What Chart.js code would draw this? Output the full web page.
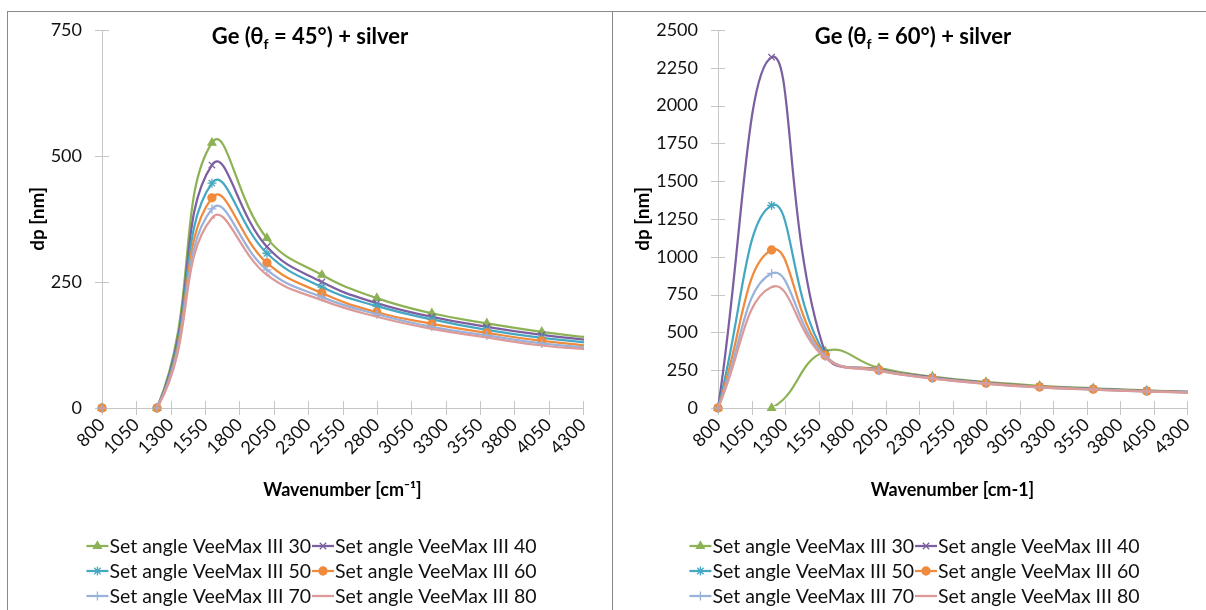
<!DOCTYPE html>
<html>
<head>
<meta charset="utf-8">
<script src="https://cdn.jsdelivr.net/npm/chart.js@4.4.1/dist/chart.umd.min.js"></script>
<style>
  body { margin: 0; background: #fff; width: 1206px; height: 610px; overflow: hidden; position: relative; }
  .panel { position: absolute; border-left: 1px solid #8a8a8a; border-top: 1px solid #8a8a8a; }
  #panel45 { left: 7px; top: 11px; width: 604px; height: 599px; }
  #panel60 { left: 612px; top: 11px; width: 600px; height: 599px; }
  .panel canvas { display: block; }
</style>
</head>
<body>
<div class="panel" id="panel45"><canvas id="chart45"></canvas></div>
<div class="panel" id="panel60"><canvas id="chart60"></canvas></div>
<script>
// wavenumber grid (cm-1) shared by every series
const wavenumbers = [800, 1200, 1600, 2000, 2400, 2800, 3200, 3600, 4000, 4400];
const setAngles = [30, 40, 50, 60, 70, 80];
const seriesNames = setAngles.map(a => 'Set angle VeeMax III ' + a);

// penetration depth dp [nm], Ge crystal at 45 deg
const dp45_30 = [0, 0, 526, 337, 264, 218, 188, 168, 151, 138];
const dp45_40 = [0, 0, 482, 320, 250, 208, 181, 161, 145, 133];
const dp45_50 = [0, 0, 446, 307, 240, 202, 176, 155, 139, 128];
const dp45_60 = [0, 0, 417, 288, 228, 190, 167, 149, 133, 122];
const dp45_70 = [0, 0, 395, 274, 220, 186, 161, 144, 128, 118];
const dp45_80 = [0, 0, 377, 264, 214, 181, 157, 140, 124, 115];

// penetration depth dp [nm], Ge crystal at 60 deg
const dp60_30 = [0, 0, 375, 265, 208, 172, 147, 130, 116, 106];
const dp60_40 = [0, 2320, 365, 255, 203, 168, 142, 127, 114, 104];
const dp60_50 = [0, 1340, 355, 252, 200, 166, 140, 125, 112, 103];
const dp60_60 = [0, 1045, 348, 250, 198, 164, 139, 124, 111, 102];
const dp60_70 = [0, 890, 340, 247, 196, 162, 137, 122, 110, 101];
const dp60_80 = [0, 800, 332, 245, 194, 160, 136, 121, 109, 100];

const yTicks45 = [0, 250, 500, 750];
const yTicks60 = [0, 250, 500, 750, 1000, 1250, 1500, 1750, 2000, 2250, 2500];
const xTicks = [800, 1050, 1300, 1550, 1800, 2050, 2300, 2550, 2800, 3050, 3300, 3550, 3800, 4050, 4300];

const seriesColors = ['#8db255', '#7b5fa0', '#45a8c2', '#f08a3c', '#98b2dc', '#dc9a98'];
const markerStyles = ['triangle', 'crossRot', 'star', 'circle', 'cross', 'dash'];
const markerSizes = [4.5, 4.5, 4.5, 4, 4.5, 3];

const fontFamily = 'Lato, "Open Sans", sans-serif';
const axisGrey = '#c6c6c6';

// axis tick marks cross the axis line, as in the spreadsheet style
const crossTicks = {
  id: 'crossTicks',
  beforeDatasetsDraw(chart) {
    const { ctx, scales: { x, y } } = chart;
    ctx.save();
    ctx.strokeStyle = axisGrey;
    ctx.lineWidth = 1;
    ctx.beginPath();
    y.ticks.forEach((t, i) => {
      const py = Math.round(y.getPixelForTick(i)) + 0.5;
      ctx.moveTo(x.left - 7, py);
      ctx.lineTo(x.left + 7, py);
    });
    x.ticks.forEach((t, i) => {
      const px = Math.round(x.getPixelForTick(i)) + 0.5;
      ctx.moveTo(px, y.bottom - 7);
      ctx.lineTo(px, y.bottom + 7);
    });
    ctx.stroke();
    ctx.restore();
  }
};

// bold title with a subscript f on theta
const subTitle = {
  id: 'subTitle',
  afterDraw(chart, args, opts) {
    const { ctx, width } = chart;
    const parts = [
      { t: 'Ge (θ', size: 22, dy: 0 },
      { t: 'f', size: 14, dy: 7 },
      { t: ' = ' + opts.angle + '°) + silver', size: 22, dy: 0 }
    ];
    ctx.save();
    let total = 0;
    parts.forEach(p => { ctx.font = 'bold ' + p.size + 'px ' + fontFamily; p.w = ctx.measureText(p.t).width; total += p.w; });
    let x = width / 2 - total / 2 + opts.dx;
    ctx.fillStyle = '#000';
    ctx.textBaseline = 'middle';
    parts.forEach(p => {
      ctx.font = 'bold ' + p.size + 'px ' + fontFamily;
      ctx.fillText(p.t, x, 25 + p.dy);
      x += p.w;
    });
    ctx.restore();
  }
};

// two-column legend below the plot
const seriesLegend = {
  id: 'seriesLegend',
  afterDraw(chart) {
    const { ctx, width } = chart;
    ctx.save();
    ctx.font = '19.5px ' + fontFamily;
    const w = seriesNames.map(n => 24 + ctx.measureText(n).width);
    const col0 = Math.max(w[0], w[2], w[4]);
    const col1 = Math.max(w[1], w[3], w[5]);
    const x0 = width / 2 - (col0 + col1) / 2 + 2;
    seriesNames.forEach((name, s) => {
      const lx = s % 2 ? x0 + col0 : x0;
      const ly = 534 + Math.floor(s / 2) * 25;
      ctx.strokeStyle = seriesColors[s];
      ctx.lineWidth = 2.25;
      ctx.beginPath();
      ctx.moveTo(lx, ly);
      ctx.lineTo(lx + 22, ly);
      ctx.stroke();
      ctx.fillStyle = seriesColors[s];
      ctx.lineWidth = 1.3;
      Chart.helpers.drawPoint(ctx, { pointStyle: markerStyles[s], radius: markerSizes[s], borderWidth: 1.3, rotation: 0 }, lx + 11, ly);
      ctx.fillStyle = '#111';
      ctx.textAlign = 'left';
      ctx.textBaseline = 'middle';
      ctx.fillText(name, lx + 23, ly + 1);
    });
    ctx.restore();
  }
};

function buildDatasets(seriesValues) {
  const out = [];
  seriesValues.forEach((vals, s) => {
    const pts = wavenumbers.map((x, i) => ({ x: x, y: vals[i] }));
    // smooth line, clipped to the plot area (segments lying on zero stay hidden)
    out.push({
      label: seriesNames[s], data: pts, borderColor: seriesColors[s], borderWidth: 2.25,
      pointRadius: 0, tension: 0.45, fill: false, order: 100 - 2 * s,
      clip: { left: 2, top: 2, right: 1, bottom: -2 }
    });
    // markers drawn on top, allowed to sit on the axis
    out.push({
      label: seriesNames[s] + ' markers', data: pts, showLine: false,
      pointStyle: markerStyles[s], pointRadius: markerSizes[s], pointBorderWidth: 1.3,
      pointBorderColor: seriesColors[s], pointBackgroundColor: seriesColors[s],
      clip: { left: 8, top: 8, right: 0, bottom: 8 }, order: 99 - 2 * s
    });
  });
  return out;
}

// invisible tick marks only reserve the gap between labels and axis line
const hiddenTickGrid = { display: true, drawOnChartArea: false, color: 'rgba(0,0,0,0)', tickLength: 14 };

function makeChart(id, seriesValues, yTicks, angle, xTitle, yWidth, padRight) {
  const tickFont = { family: fontFamily, size: 18 };
  return new Chart(document.getElementById(id), {
    type: 'line',
    data: { datasets: buildDatasets(seriesValues) },
    options: {
      responsive: true,
      maintainAspectRatio: false,
      animation: false,
      events: [],
      layout: { padding: { top: 18, right: padRight, left: 0, bottom: 103 } },
      plugins: {
        legend: { display: false },
        tooltip: { enabled: false },
        subTitle: { angle: angle, dx: 0 }
      },
      scales: {
        x: {
          type: 'linear',
          min: xTicks[0],
          max: xTicks[xTicks.length - 1],
          afterBuildTicks: axis => { axis.ticks = xTicks.map(v => ({ value: v })); },
          afterFit: axis => { axis.height = 100; },
          grid: { display: false, drawTicks: false },
          border: { color: axisGrey, width: 1 },
          ticks: {
            font: tickFont, color: '#111', padding: 6,
            minRotation: 45, maxRotation: 45, autoSkip: false,
            callback: v => String(v)
          },
          title: {
            display: true, text: xTitle, color: '#000',
            font: { family: fontFamily, size: 18, weight: 'bold' },
            padding: { top: 0, bottom: 7 }
          }
        },
        y: {
          min: yTicks[0],
          max: yTicks[yTicks.length - 1],
          afterBuildTicks: axis => { axis.ticks = yTicks.map(v => ({ value: v })); },
          afterFit: axis => { axis.width = yWidth; },
          grid: hiddenTickGrid,
          border: { color: axisGrey, width: 1 },
          ticks: { font: tickFont, color: '#111', padding: 6, callback: v => String(v) },
          title: {
            display: true, text: 'dp [nm]', color: '#000',
            font: { family: fontFamily, size: 19, weight: 'bold' },
            padding: { top: 18, bottom: 0 }
          }
        }
      }
    },
    plugins: [crossTicks, subTitle, seriesLegend]
  });
}

makeChart('chart45', [dp45_30, dp45_40, dp45_50, dp45_60, dp45_70, dp45_80], yTicks45, 45, 'Wavenumber [cm⁻¹]', 94, 29);
makeChart('chart60', [dp60_30, dp60_40, dp60_50, dp60_60, dp60_70, dp60_80], yTicks60, 60, 'Wavenumber [cm-1]', 105, 26);
</script>
</body>
</html>
